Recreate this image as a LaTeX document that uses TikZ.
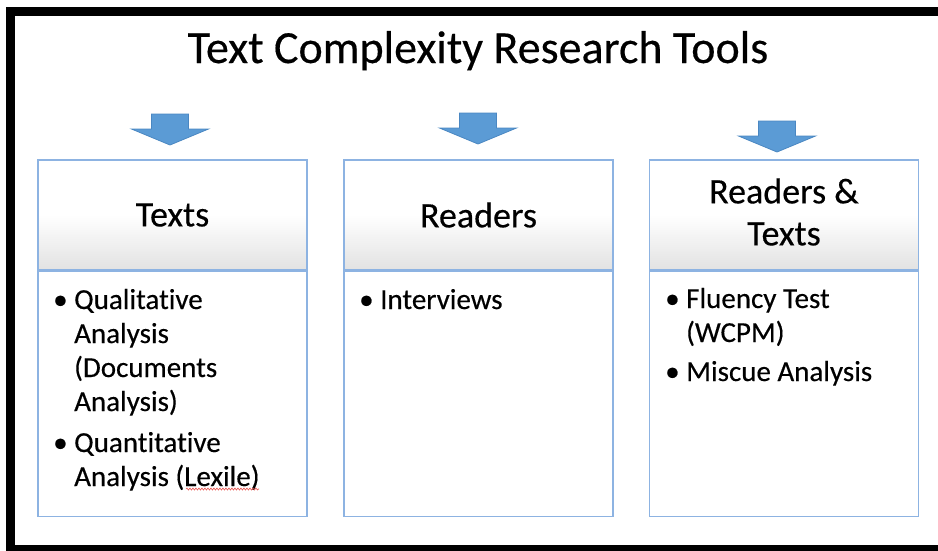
\documentclass[tikz,border=0pt]{standalone}
\usepackage{fontspec}
\setmainfont{Carlito}[Ligatures=NoCommon, FakeBold=0.35]
\usetikzlibrary{positioning,decorations.pathmorphing}

\definecolor{boxblue}{HTML}{8DB3E2}
\definecolor{arrowblue}{HTML}{5B9BD5}
\definecolor{arrowedge}{HTML}{4A87C2}
\definecolor{headgrey}{HTML}{E2E2E2}
\definecolor{spellred}{HTML}{E8504A}

\newcommand{\bodyfont}{\fontsize{29}{34}\selectfont}
% one bulleted entry with a hanging indent; its base anchor is the first baseline
\newcommand{\bulletentry}[1]{\parbox[t]{240pt}{\bodyfont\raggedright
  \hangindent=21pt\hangafter=1\noindent\makebox[21pt][l]{•}#1}}

\tikzset{
  header/.style={draw=boxblue, line width=1.2pt, minimum width=269pt,
    minimum height=110pt, top color=white, bottom color=headgrey,
    middle color=white, inner sep=0pt, align=center,
    font=\fontsize{36}{42}\selectfont},
  headtext/.style={inner sep=0pt, align=center, font=\fontsize{36}{42}\selectfont},
  bodybox/.style={draw=boxblue, line width=1.2pt, minimum width=269pt,
    minimum height=245pt, inner sep=0pt, fill=white},
  entry/.style={anchor=base west, inner sep=0pt},
  downarrow/.pic={
    \filldraw[fill=arrowblue, draw=arrowedge, line width=0.8pt, line join=miter]
      (-18.5,0) -- (18.5,0) -- (18.5,15) -- (38.5,15) -- (0,31)
      -- (-38.5,15) -- (-18.5,15) -- cycle;
  }
}

\begin{document}
\begin{tikzpicture}[x=1pt,y=-1pt]
\useasboundingbox (0,0) rectangle (938,550);
\clip (0,0) rectangle (938,550);

% heavy black frame round the slide
\draw[line width=9pt] (10,11) rectangle (960,549);

% title
\node[anchor=base, inner sep=0pt, font=\fontsize{46}{54}\selectfont]
  (title) at (478,63) {Text Complexity Research Tools};

% pointer arrows
\pic (arr1) at (170,114) {downarrow};
\pic (arr2) at (478,113) {downarrow};
\pic (arr3) at (777,121) {downarrow};

% column headers
\node[header] (h1) at (172.5,215) {Texts};
\node[header] (h2) at (478.5,215) {Readers};
\node[header] (h3) at (784,215) {};
\node[headtext] (h3text) at (784,212) {Readers \&\\Texts};

% column bodies
\node[bodybox, below=0pt of h1] (b1) {};
\node[bodybox, below=0pt of h2] (b2) {};
\node[bodybox, below=0pt of h3] (b3) {};

% entries
\node[entry] (e1a) at (53,309) {\bulletentry{Qualitative Analysis (Documents Analysis)}};
\node[entry] (e1b) at (53,452) {\bulletentry{Quantitative Analysis (Lexile)}};
\node[entry] (e2a) at (359,309) {\bulletentry{Interviews}};
\node[entry] (e3a) at (665,308) {\bulletentry{Fluency Test (WCPM)}};
\node[entry] (e3b) at (665,381) {\bulletentry{Miscue Analysis}};

% spelling mark under "Lexile"
\coordinate (sp1) at (186,489);
\coordinate (sp2) at (259,489);
\draw[spellred, line width=0.6pt, decorate,
  decoration={snake, amplitude=1pt, segment length=3pt}] (sp1) -- (sp2);
\end{tikzpicture}
\end{document}
